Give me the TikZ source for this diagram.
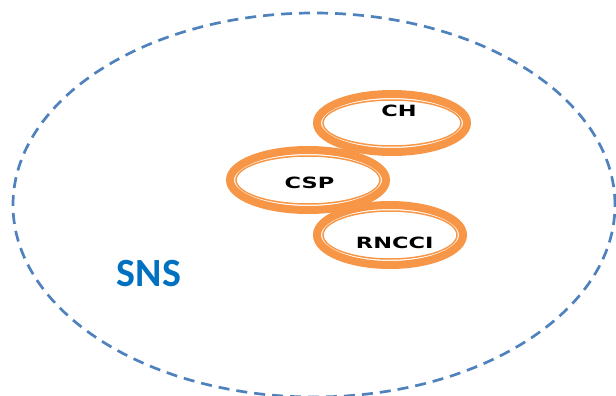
\documentclass[tikz,border=0pt]{standalone}
\usepackage{fontspec}
\newfontfamily\snsfont{Carlito}
\newfontfamily\ringfont[FakeStretch=1.45]{DejaVu Sans}
\definecolor{snsblue}{HTML}{0070C0}
\definecolor{dashblue}{HTML}{4F81BD}
\definecolor{ringorange}{HTML}{F79646}
\tikzstyle{ring}=[ellipse,draw=ringorange,line width=8pt,inner sep=0pt]
\tikzstyle{ringtext}=[font=\ringfont\bfseries\fontsize{15.5}{15.5}\selectfont,inner sep=0pt]
\usetikzlibrary{shapes}

\begin{document}
\begin{tikzpicture}[x=1pt,y=1pt]
\useasboundingbox (0,0) rectangle (616,-396);
% outer dashed domain
\draw[dashblue,line width=2.7pt,dash pattern=on 11pt off 7pt] (314,-205) ellipse [x radius=301, y radius=192];
\node[font=\snsfont\bfseries\fontsize{40}{40}\selectfont,text=snsblue,inner sep=0pt] (sns) at (149,-274) {SNS};
% double rings: thick band + thin inner line
\foreach \n/\cx/\cy/\rx/\ry/\tx/\ty/\txt in {ch/392/123/79/33/7/12.5/CH, csp/308/180/82/34/1.5/-3/CSP, rncci/390/235/77/34/4.7/-8.3/RNCCI} {
\node[ring,minimum width=2*\rx-8,minimum height=2*\ry-8,
  label={[ringtext,xshift=\tx,yshift=\ty]center:\txt}] (\n) at (\cx,-\cy) {};
\draw[ringorange,line width=1.5pt] (\n.center) ellipse [x radius=\rx-10, y radius=\ry-10];}
\end{tikzpicture}
\end{document}
